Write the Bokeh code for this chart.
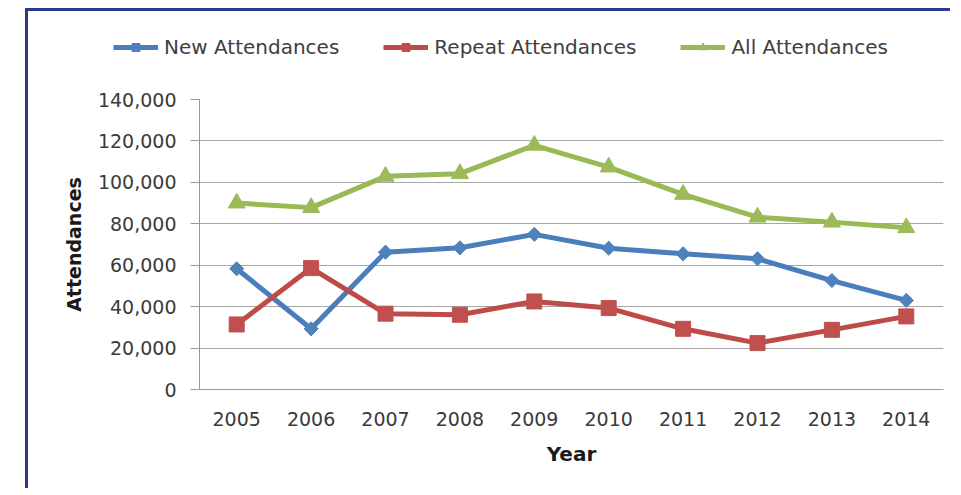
import numpy as np
from bokeh.plotting import figure
from bokeh.layouts import column
from bokeh.models import FactorRange, Range1d, NumeralTickFormatter, Legend, LegendItem, FixedTicker
from bokeh.embed import file_html
from bokeh.resources import INLINE

years = ["2005", "2006", "2007", "2008", "2009", "2010", "2011", "2012", "2013", "2014"]
new_att = [58300, 29300, 66300, 68400, 74900, 68200, 65500, 63100, 52600, 43000]
repeat_att = [31400, 58600, 36600, 36100, 42500, 39300, 29300, 22400, 28800, 35300]
all_att = [90000, 87800, 102900, 104200, 117900, 107400, 94200, 83200, 80800, 78100]
y_ticks = [0, 20000, 40000, 60000, 80000, 100000, 120000, 140000]

FONT = "DejaVu Sans"
BORDER = "3px solid #2E3A8C"

series = [
    ("New Attendances", new_att, "#4A7EBB", "#4F81BD", "square", 10, np.pi / 4),
    ("Repeat Attendances", repeat_att, "#BE4B48", "#C0504D", "square", 15, 0.0),
    ("All Attendances", all_att, "#98B954", "#9BBB59", "triangle", 17, 0.0),
]

# ---- legend strip (top) ----
lg = figure(width=925, height=60, output_backend="svg", toolbar_location=None,
            x_axis_location=None, y_axis_location=None,
            x_range=Range1d(0, 1), y_range=Range1d(0, 1),
            min_border_left=0, min_border_right=0, min_border_top=0, min_border_bottom=0)
lg.frame_align = False
lg.styles = {"border-left": BORDER, "border-top": BORDER}
lg.margin = (8, 0, 0, 25)
lg.outline_line_color = None
lg.xgrid.grid_line_color = None
lg.ygrid.grid_line_color = None

# ---- main chart ----
p = figure(x_range=FactorRange(factors=years), y_range=Range1d(0, 140000),
           width=925, height=420, output_backend="svg", toolbar_location=None,
           min_border_left=171, min_border_top=31, min_border_right=10, min_border_bottom=99)
p.frame_align = False
p.styles = {"border-left": BORDER}
p.margin = (0, 0, 0, 25)
p.outline_line_color = None

p.xgrid.grid_line_color = None
p.ygrid.grid_line_color = "#A6A6A6"
p.ygrid.grid_line_width = 1

p.yaxis.ticker = FixedTicker(ticks=y_ticks)
p.yaxis.formatter = NumeralTickFormatter(format="0,0")
p.yaxis.minor_tick_line_color = None
p.yaxis.major_tick_out = 9
p.yaxis.major_tick_in = 0
p.yaxis.major_tick_line_color = "#999999"
p.yaxis.axis_line_color = "#999999"
p.yaxis.major_label_standoff = 14
p.yaxis.axis_label = "Attendances"
p.yaxis.axis_label_standoff = 10

p.xaxis.major_tick_line_color = None
p.xaxis.minor_tick_line_color = None
p.xaxis.axis_line_color = "#999999"
p.xaxis.major_label_standoff = 16
p.xaxis.axis_label = "Year"
p.xaxis.axis_label_standoff = 13

for ax in (p.xaxis, p.yaxis):
    ax.major_label_text_font = FONT
    ax.major_label_text_font_size = "19px"
    ax.major_label_text_color = "#3A3A3A"
    ax.axis_label_text_font = FONT
    ax.axis_label_text_font_style = "bold"
    ax.axis_label_text_color = "#1A1A1A"
p.yaxis.axis_label_text_font_size = "19px"
p.xaxis.axis_label_text_font_size = "20px"

items = []
for label, vals, lc, mc, marker, size, ang in series:
    p.line(years, vals, line_width=5, line_color=lc, line_join="round")
    p.scatter(years, vals, marker=marker, size=size, angle=ang, fill_color=mc, line_color=mc)
    # legend sample glyphs in the legend strip (placed outside its visible range)
    lr = lg.line(x=[-5, -4], y=[-5, -4], line_width=5, line_color=lc)
    lm = lg.scatter(x=[-5], y=[-5], marker=marker, size=size, angle=ang, fill_color=mc, line_color=mc)
    items.append(LegendItem(label=label, renderers=[lr, lm]))

legend = Legend(items=items, orientation="horizontal", location=(85, 12),
                spacing=44, glyph_width=45, glyph_height=20, label_standoff=6,
                padding=0, margin=0, border_line_color=None, background_fill_alpha=0,
                label_text_font=FONT, label_text_font_size="20px", label_text_color="#404040")
lg.add_layout(legend)

layout = column(lg, p, spacing=0)
open("out.html", "w").write(file_html(layout, INLINE))
